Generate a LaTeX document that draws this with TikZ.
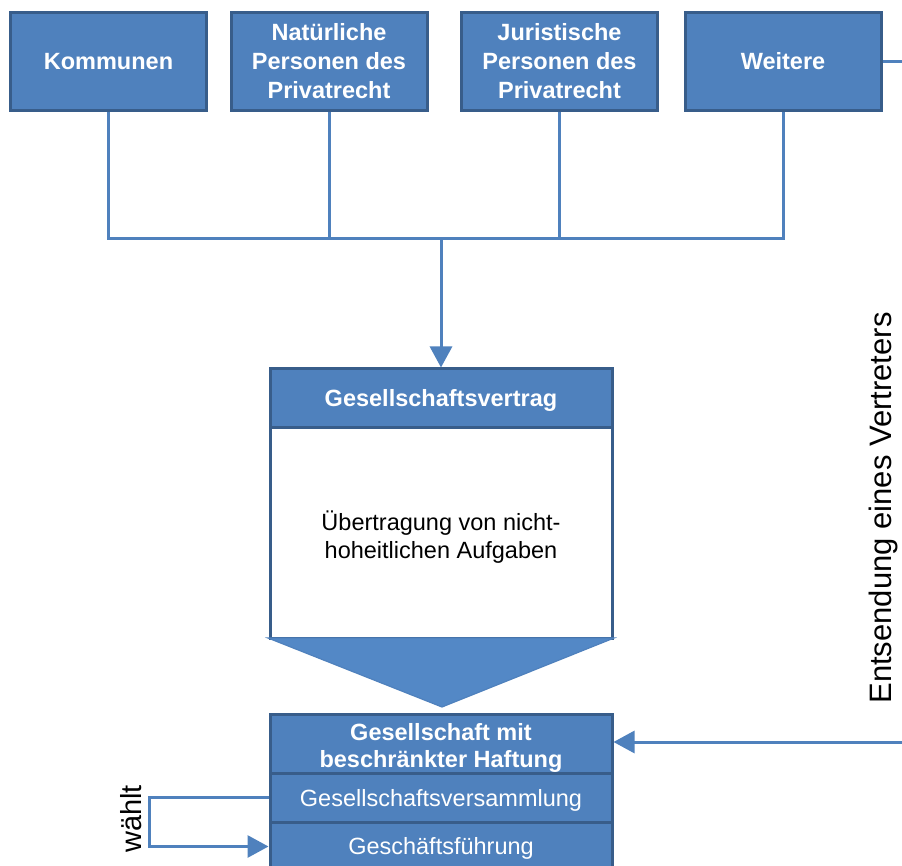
\documentclass[tikz,border=0pt]{standalone}
\usepackage{fontspec}
\setmainfont{Liberation Sans}
\usetikzlibrary{arrows.meta}
\definecolor{boxfill}{HTML}{4F81BD}
\definecolor{boxline}{HTML}{385D8A}
\definecolor{chevfill}{HTML}{5388C6}
\tikzset{
  topbox/.style={draw=boxline, fill=boxfill, line width=3pt, minimum width=196pt, minimum height=98pt,
    inner sep=0pt, text=white, align=center, font=\fontsize{23.5}{29}\selectfont\bfseries},
  headbox/.style={draw=boxline, fill=boxfill, line width=3pt, minimum width=342pt,
    inner sep=0pt, text=white, align=center, font=\fontsize{23.5}{27.5}\selectfont\bfseries},
  headtext/.style={inner sep=0pt, text=white, align=center, font=\fontsize{23.5}{27.5}\selectfont\bfseries},
  bodybox/.style={draw=boxline, fill=white, line width=3pt, minimum width=342pt, minimum height=211pt,
    inner sep=0pt, text=black, align=center, font=\fontsize{23.5}{27.5}\selectfont},
  rowbox/.style={draw=boxline, fill=boxfill, line width=3pt, minimum width=342pt,
    inner sep=0pt, text=white, align=center, font=\fontsize{23.5}{27}\selectfont},
  conn/.style={draw=boxfill, line width=3pt},
  arr/.style={conn, -{Triangle[length=21pt, width=22pt]}},
  sidelabel/.style={rotate=90, inner sep=0pt, text=black}
}
\begin{document}
\begin{tikzpicture}[x=1pt, y=-1pt]
\useasboundingbox (0,0) rectangle (902,866);
\clip (0,0) rectangle (902,866);

% top boxes
\node[topbox] (komm) at (108.5,61.5) {Kommunen};
\node[topbox] (nat) at (329,61.5) {Natürliche\\Personen des\\Privatrecht};
\node[topbox] (jur) at (559.5,61.5) {Juristische\\Personen des\\Privatrecht};
\node[topbox] (weit) at (783,61.5) {Weitere};

% bus
\coordinate (bus) at (441,239);
\coordinate (rtop) at (905,61.5);
\coordinate (rbot) at (905,742);

\draw[conn] (komm.south) -- (komm.south |- bus) -- (weit.south |- bus) -- (weit.south);
\draw[conn] (nat.south) -- (nat.south |- bus);
\draw[conn] (jur.south) -- (jur.south |- bus);
\draw[conn] (weit.east) -- (rtop);

% Gesellschaftsvertrag
\node[headbox, minimum height=58pt] (gvh) at (441,398) {};
\node[headtext] (gvhtext) at (441,400.5) {Gesellschaftsvertrag};
\node[bodybox] (gvb) at (441,532.5) {};
\node[inner sep=0pt, align=center, font=\fontsize{23.5}{27.5}\selectfont] (gvbtext) at (441,537) {Übertragung von nicht-\\hoheitlichen Aufgaben};
\draw[arr] (bus) -- (gvh.north);

% chevron
\coordinate (chl) at (268,638);
\coordinate (chr) at (614,638);
\coordinate (chtip) at (442,707);
\draw[draw=boxfill, fill=chevfill, line width=1.2pt, line join=miter] (chl) -- (chr) -- (chtip) -- cycle;

% GmbH
\node[headbox, minimum height=59pt] (gmbh) at (441,743.5) {};
\node[headtext] (gmbhtext) at (441,748) {Gesellschaft mit\\beschränkter Haftung};
\node[rowbox, minimum height=49pt] (vers) at (441,797.5) {};
\node[rowbox, minimum height=49pt] (fuehr) at (441,846.5) {};
\node[inner sep=0pt, text=white, font=\fontsize{23.5}{27}\selectfont] (verstext) at (441,800) {Gesellschaftsversammlung};
\node[inner sep=0pt, text=white, font=\fontsize{23.5}{27}\selectfont] (fuehrtext) at (441,848.5) {Geschäftsführung};

\draw[arr] (rbot) -- (gmbh.east |- rbot);
\draw[arr] (vers.west) -- ++(-119,0) |- (fuehr.west);

% labels
\node[sidelabel, font=\fontsize{31}{36}\selectfont] (ents) at (883,508) {Entsendung eines Vertreters};
\node[sidelabel, font=\fontsize{29}{34}\selectfont] (waehlt) at (131,819) {wählt};
\end{tikzpicture}
\end{document}
